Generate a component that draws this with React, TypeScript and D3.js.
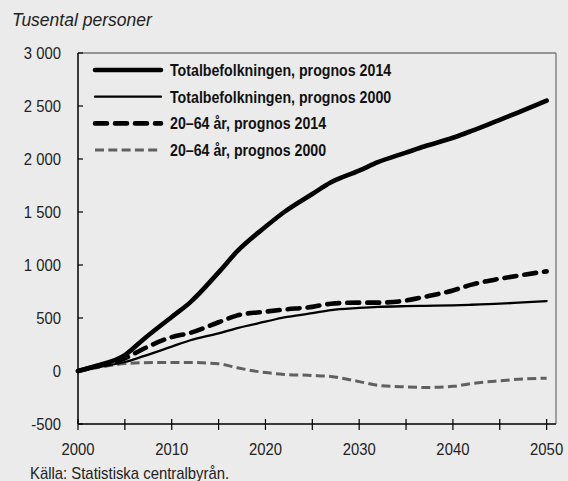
import React from "react";
import * as d3 from "d3";

const years = [2000, 2002, 2005, 2007, 2010, 2012, 2015, 2017, 2020, 2022, 2025, 2027, 2030, 2032, 2035, 2037, 2040, 2042, 2045, 2047, 2050];
const total2014 = [0, 50, 150, 300, 510, 650, 930, 1130, 1360, 1500, 1670, 1780, 1890, 1970, 2060, 2120, 2200, 2265, 2370, 2440, 2550];
const total2000 = [0, 35, 85, 140, 230, 290, 355, 405, 465, 505, 545, 575, 595, 605, 612, 615, 620, 625, 635, 645, 660];
const work2014 = [0, 45, 120, 210, 320, 360, 460, 525, 560, 580, 605, 635, 645, 645, 665, 700, 760, 815, 870, 900, 940];
const work2000 = [0, 30, 70, 78, 80, 80, 68, 30, -15, -32, -42, -52, -100, -135, -150, -155, -145, -118, -92, -78, -68];

const yTicks = [-500, 0, 500, 1000, 1500, 2000, 2500, 3000];
const xTickLabels = [2000, 2010, 2020, 2030, 2040, 2050];
const xMinorTicks = [2000, 2005, 2010, 2015, 2020, 2025, 2030, 2035, 2040, 2045, 2050];

const seriesNames = [
  "Totalbefolkningen, prognos 2014",
  "Totalbefolkningen, prognos 2000",
  "20–64 år, prognos 2014",
  "20–64 år, prognos 2000",
];
const seriesValues = [total2014, total2000, work2014, work2000];
const seriesStyles = [
  { stroke: "#000", width: 4.6, dash: "", cap: "round" },
  { stroke: "#000", width: 2.3, dash: "", cap: "round" },
  { stroke: "#000", width: 4.6, dash: "12,8", cap: "round" },
  { stroke: "#606060", width: 3, dash: "9,4.3", cap: "butt" },
];

const W = 568, H = 481;
const L = 78, R = 556, T = 53, B = 424;
const FONT = "'Liberation Sans', Arial, sans-serif";

const fmt = (v: number) => {
  if (Math.abs(v) >= 1000) {
    const s = String(v);
    return s.slice(0, s.length - 3) + " " + s.slice(-3);
  }
  return String(v);
};

function CText(props: {
  x: number;
  y: number;
  sx: number;
  size: number;
  anchor?: string;
  bold?: boolean;
  fill?: string;
  children: React.ReactNode;
}) {
  const { x, y, sx, size, anchor, bold, fill, children } = props;
  return (
    <text
      transform={`translate(${x},${y}) scale(${sx},1)`}
      textAnchor={anchor || "start"}
      fontFamily={FONT}
      fontWeight={bold ? "bold" : "normal"}
      fontSize={size}
      fill={fill || "#222"}
    >
      {children}
    </text>
  );
}

export default function App() {
  const x = d3.scaleLinear().domain([2000, 2051]).range([L, R]);
  const y = d3.scaleLinear().domain([-500, 3000]).range([B, T]);
  const line = d3
    .line<number>()
    .x((_, i) => x(years[i]))
    .y((d) => y(d))
    .curve(d3.curveMonotoneX);
  return (
    <svg width={W} height={H} style={{ position: "fixed", left: 0, top: 0 }}>
      <rect x={0} y={0} width={W} height={H} fill="#ebebeb" />
      <text x={12} y={26} fontFamily={FONT} fontStyle="italic" fontSize={17.5} fill="#222">
        Tusental personer
      </text>
      <line x1={L} x2={R} y1={T} y2={T} stroke="#777" strokeWidth={1.3} />
      <line x1={R} x2={R} y1={T} y2={B} stroke="#777" strokeWidth={1.3} />
      {seriesValues
        .map((vals, i) => {
          const s = seriesStyles[i];
          return (
            <path
              key={i}
              d={line(vals) || ""}
              fill="none"
              stroke={s.stroke}
              strokeWidth={s.width}
              strokeDasharray={s.dash || undefined}
              strokeLinecap={s.cap as any}
              strokeLinejoin="round"
            />
          );
        })
        .reverse()}
      <line x1={L} x2={L} y1={T} y2={B} stroke="#000" strokeWidth={1.5} />
      <line x1={L} x2={R} y1={B} y2={B} stroke="#000" strokeWidth={1.5} />
      {yTicks.map((t) => (
        <g key={t}>
          <line x1={L} x2={L + 5} y1={y(t)} y2={y(t)} stroke="#000" strokeWidth={1.2} />
          <CText x={61} y={y(t) + 6} sx={0.89} size={16.7} anchor="end">
            {fmt(t)}
          </CText>
        </g>
      ))}
      {xMinorTicks.map((t) => (
        <line key={t} x1={x(t)} x2={x(t)} y1={B - 5} y2={B + 6} stroke="#000" strokeWidth={1.2} />
      ))}
      {xTickLabels.map((t) => (
        <CText key={t} x={x(t)} y={455} sx={0.89} size={16.7} anchor="middle">
          {t}
        </CText>
      ))}
      {seriesNames.map((n, i) => {
        const s = seriesStyles[i];
        const ly = 70 + i * 26.7;
        return (
          <g key={n}>
            <line
              x1={95}
              x2={161}
              y1={ly}
              y2={ly}
              stroke={s.stroke}
              strokeWidth={s.width}
              strokeDasharray={s.dash || undefined}
              strokeLinecap={s.cap as any}
            />
            <CText x={170} y={ly + 6} sx={0.85} size={16.7} bold fill="#111">
              {n}
            </CText>
          </g>
        );
      })}
      <CText x={30} y={479} sx={0.93} size={16} fill="#222">
        Källa: Statistiska centralbyrån.
      </CText>
    </svg>
  );
}
